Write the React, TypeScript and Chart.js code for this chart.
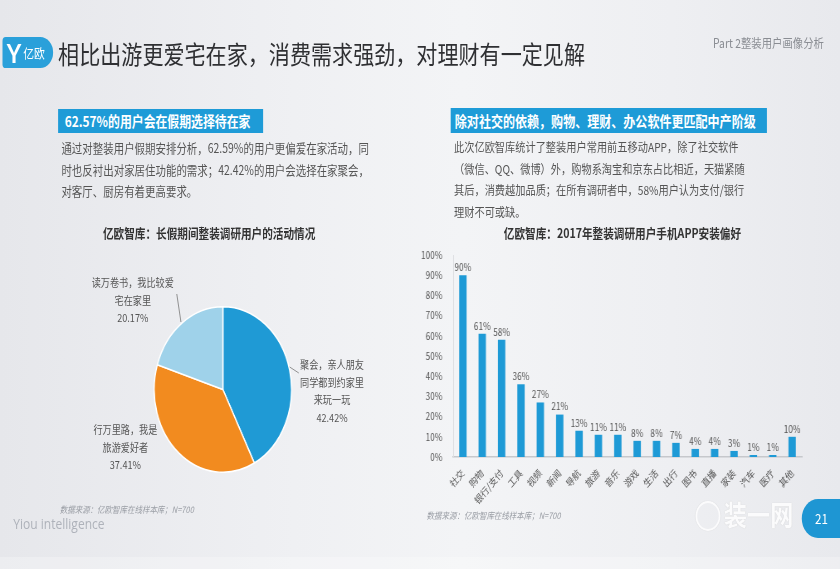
import React, { useEffect, useRef } from "react";
import { Chart, registerables } from "chart.js";

Chart.register(...registerables);

const FONT = '"Noto Sans CJK SC", "Noto Sans", sans-serif';

// ---- bar chart data ----
const appCategories = ["社交", "购物", "银行/支付", "工具", "视频", "新闻", "导航", "旅游", "音乐", "游戏", "生活", "出行", "图书", "直播", "家装", "汽车", "医疗", "其他"];
const appShares = [90, 61, 58, 36, 27, 21, 13, 11, 11, 8, 8, 7, 4, 4, 3, 1, 1, 10];
const yAxisMax = 100;
const yAxisStep = 10;

// ---- pie chart data ----
const activityNames = ["聚会，亲人朋友同学都到约家里来玩一玩", "行万里路，我是旅游爱好者", "读万卷书，我比较爱宅在家里"];
const activityLabelLines = [["聚会，亲人朋友", "同学都到约家里", "来玩一玩"], ["行万里路，我是", "旅游爱好者"], ["读万卷书，我比较爱", "宅在家里"]];
const activityShares = [42.42, 37.41, 20.17];
const activityColors = ["#1f9ad5", "#f28b1f", "#9fd2ea"];

const BLUE = "#1e9bd7";

function BarChart() {
  const ref = useRef<HTMLCanvasElement>(null);
  useEffect(() => {
    const valueLabels = {
      id: "valueLabels",
      afterDatasetsDraw(chart: any) {
        const ctx = chart.ctx;
        const meta = chart.getDatasetMeta(0);
        ctx.save();
        ctx.font = `10px ${FONT}`;
        ctx.fillStyle = "#555";
        ctx.textAlign = "center";
        ctx.textBaseline = "bottom";
        meta.data.forEach((el: any, i: number) => {
          ctx.fillText(appShares[i] + "%", el.x, el.y - 3);
        });
        ctx.restore();
      },
    };
    const chart = new Chart(ref.current as HTMLCanvasElement, {
      type: "bar",
      data: {
        labels: appCategories,
        datasets: [
          {
            data: appShares,
            backgroundColor: "#1e9ad6",
            barPercentage: 0.38,
            categoryPercentage: 1,
          },
        ],
      },
      options: {
        responsive: false,
        animation: false,
        layout: { padding: { top: 10, right: 10, bottom: 7, left: 0 } },
        plugins: { legend: { display: false }, tooltip: { enabled: false } },
        scales: {
          x: {
            grid: { display: false },
            border: { color: "#c6c8cc", width: 1.5 },
            ticks: {
              autoSkip: false,
              maxRotation: 45,
              minRotation: 45,
              color: "#555",
              font: { size: 10, family: FONT },
              padding: 2,
            },
            afterFit(s: any) {
              s.height = 60;
            },
          },
          y: {
            min: 0,
            max: yAxisMax,
            ticks: {
              stepSize: yAxisStep,
              callback: (v: any) => v + "%",
              color: "#555",
              font: { size: 10, family: FONT },
              padding: 5,
            },
            grid: { display: false },
            border: { color: "#dcdde0" },
            afterFit(s: any) {
              s.width = 46;
            },
          },
        },
      } as any,
      plugins: [valueLabels],
    });
    return () => chart.destroy();
  }, []);
  return (
    <canvas
      ref={ref}
      width={476}
      height={280}
      style={{ position: "absolute", left: 500, top: 244, width: 476, height: 280 }}
    />
  );
}

function PieChart() {
  const ref = useRef<HTMLCanvasElement>(null);
  useEffect(() => {
    const chart = new Chart(ref.current as HTMLCanvasElement, {
      type: "pie",
      data: {
        labels: activityNames,
        datasets: [
          {
            data: activityShares,
            backgroundColor: activityColors,
            borderColor: "#ffffff",
            borderWidth: 1.5,
          },
        ],
      },
      options: {
        responsive: false,
        animation: false,
        layout: { padding: 0 },
        plugins: { legend: { display: false }, tooltip: { enabled: false } },
      } as any,
    });
    return () => chart.destroy();
  }, []);
  return (
    <canvas
      ref={ref}
      width={167}
      height={167}
      style={{ position: "absolute", left: 185, top: 306, width: 167, height: 167 }}
    />
  );
}

const abs = (o: React.CSSProperties): React.CSSProperties => ({ position: "absolute", whiteSpace: "nowrap", ...o });

function PieLabel({ idx, left, top }: { idx: number; left: number; top: number }) {
  return (
    <div
      style={abs({
        left,
        top,
        width: 140,
        textAlign: "center",
        fontSize: 11,
        lineHeight: "17.6px",
        color: "#555",
      })}
    >
      {activityLabelLines[idx].map((l, i) => (
        <div key={i}>{l}</div>
      ))}
      <div>{activityShares[idx].toFixed(2)}%</div>
    </div>
  );
}

export default function App() {
  useEffect(() => {
    document.body.style.margin = "0";
    document.body.style.overflow = "hidden";
  }, []);
  return (
    <div
      style={{
        position: "fixed",
        left: 0,
        top: 0,
        width: 840,
        height: 569,
        overflow: "hidden",
        background: "linear-gradient(90deg, #e6e7eb 0%, #eff0f3 35%, #f3f4f6 55%, #eeeff2 80%, #e8e9ed 100%)",
      }}
    >
      <div
        style={{
          position: "absolute",
          left: 0,
          top: 0,
          width: 1012,
          height: 569,
          transform: "scaleX(0.83)",
          transformOrigin: "0 0",
          fontFamily: FONT,
        }}
      >
        {/* logo */}
        <div
          style={abs({
            left: 3,
            top: 37,
            width: 61,
            height: 31,
            background: "#2aa0da",
            borderRadius: "4px 16px 16px 4px",
          })}
        >
          <div style={abs({ left: 5, top: 0, fontSize: 27, lineHeight: "31px", color: "#fff", fontWeight: 700, fontFamily: "Lato, sans-serif" })}>Y</div>
          <div style={abs({ left: 25, top: 0, fontSize: 13, lineHeight: "31px", color: "#fff" })}>亿欧</div>
        </div>
        {/* title */}
        <div style={abs({ left: 70, top: 38, fontSize: 25.4, lineHeight: "30px", color: "#2f3033" })}>
          相比出游更爱宅在家，消费需求强劲，对理财有一定见解
        </div>
        <div style={abs({ left: 859, top: 35, fontSize: 12.5, lineHeight: "16px", color: "#8a8d93" })}>
          Part 2整装用户画像分析
        </div>

        {/* left box */}
        <div
          style={abs({
            left: 70,
            top: 109,
            width: 247,
            height: 24,
            background: BLUE,
            color: "#fff",
            fontSize: 14.3,
            fontWeight: 700,
            lineHeight: "24px",
            paddingLeft: 8,
            boxSizing: "border-box",
          })}
        >
          62.57%的用户会在假期选择待在家
        </div>
        <div style={abs({ left: 74, top: 137, fontSize: 12.6, lineHeight: "21.5px", color: "#555" })}>
          <div>通过对整装用户假期安排分析，62.59%的用户更偏爱在家活动，同</div>
          <div>时也反衬出对家居住功能的需求；42.42%的用户会选择在家聚会，</div>
          <div>对客厅、厨房有着更高要求。</div>
        </div>

        {/* right box */}
        <div
          style={abs({
            left: 543,
            top: 108,
            width: 381,
            height: 25,
            background: BLUE,
            color: "#fff",
            fontSize: 14.5,
            fontWeight: 700,
            lineHeight: "25px",
            paddingLeft: 5,
            boxSizing: "border-box",
          })}
        >
          除对社交的依赖，购物、理财、办公软件更匹配中产阶级
        </div>
        <div style={abs({ left: 547, top: 137, fontSize: 12.3, lineHeight: "21.5px", color: "#555" })}>
          <div>此次亿欧智库统计了整装用户常用前五移动APP，除了社交软件</div>
          <div>（微信、QQ、微博）外，购物系淘宝和京东占比相近，天猫紧随</div>
          <div>其后，消费越加品质；在所有调研者中，58%用户认为支付/银行</div>
          <div>理财不可或缺。</div>
        </div>

        {/* chart titles */}
        <div style={abs({ left: 124, top: 225, fontSize: 12.8, fontWeight: 700, lineHeight: "16px", color: "#333" })}>
          亿欧智库：长假期间整装调研用户的活动情况
        </div>
        <div style={abs({ left: 607, top: 225, fontSize: 12.8, fontWeight: 700, lineHeight: "16px", color: "#333" })}>
          亿欧智库：2017年整装调研用户手机APP安装偏好
        </div>

        <PieChart />
        <PieLabel idx={2} left={90} top={274} />
        <PieLabel idx={0} left={330} top={356} />
        <PieLabel idx={1} left={81} top={421} />
        <svg style={{ position: "absolute", left: 0, top: 0, width: 1012, height: 569, pointerEvents: "none" }}>
          <line x1={213} y1={294} x2={218} y2={322} stroke="#888" strokeWidth={1} />
          <line x1={349} y1={367} x2={360} y2={373} stroke="#888" strokeWidth={1} />
        </svg>

        <BarChart />

        {/* sources */}
        <div style={abs({ left: 72, top: 504, fontSize: 9, fontStyle: "italic", lineHeight: "12px", color: "#9a9ea5" })}>
          数据来源：亿欧智库在线样本库；N=700
        </div>
        <div style={abs({ left: 514, top: 510, fontSize: 9, fontStyle: "italic", lineHeight: "12px", color: "#9a9ea5" })}>
          数据来源：亿欧智库在线样本库；N=700
        </div>
        <div style={abs({ left: 16, top: 514, fontSize: 14.5, lineHeight: "20px", color: "#aeb2ba", fontFamily: '"Open Sans", sans-serif' })}>
          Yiou intelligence
        </div>

        {/* watermark */}
        <div
          style={abs({
            left: 838,
            top: 501,
            width: 30,
            height: 30,
            borderRadius: 15,
            border: "2px solid #fbfbfc",
            boxShadow: "0 0 1px #c8c8c8",
            boxSizing: "border-box",
          })}
        />
        <div
          style={abs({
            left: 872,
            top: 497,
            fontSize: 28,
            lineHeight: "34px",
            color: "#fbfbfc",
            fontWeight: 700,
            textShadow: "0 0 1px #c4c4c4",
          })}
        >
          装一网
        </div>

        {/* page number */}
        <div
          style={abs({
            left: 966,
            top: 499,
            width: 70,
            height: 39,
            borderRadius: 20,
            background: "#1e96d3",
          })}
        />
        <div style={abs({ left: 982, top: 509, fontSize: 14, lineHeight: "18px", color: "#fff" })}>21</div>

        <div style={abs({ left: 0, top: 557, width: 1012, height: 12, background: "rgba(255,255,255,0.25)" })} />
      </div>
    </div>
  );
}
